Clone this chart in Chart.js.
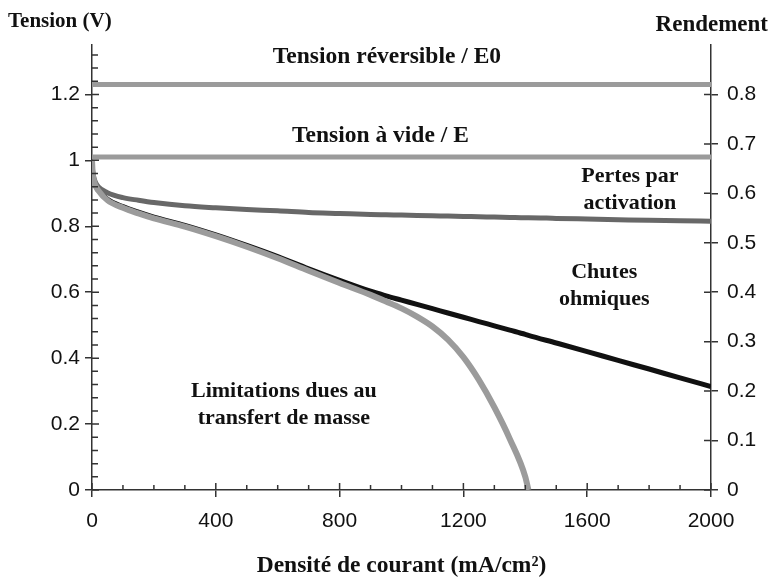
<!DOCTYPE html>
<html lang="fr">
<head>
<meta charset="utf-8">
<title>Courbe de polarisation</title>
<script src="https://cdn.jsdelivr.net/npm/chart.js@4.4.1/dist/chart.umd.min.js"></script>
<style>
  html, body { margin: 0; padding: 0; background: #fff; }
  #cadre { width: 772px; height: 580px; }
</style>
</head>
<body>
<div id="cadre"><canvas id="graphe" width="772" height="580"></canvas></div>
<script>
// densité de courant (mA/cm²)
const courant = [0, 2, 5, 10, 20, 50, 100, 150, 200, 300, 400, 500, 600, 700, 800, 900, 950, 1000,
  1050, 1100, 1150, 1200, 1250, 1300, 1350, 1400, 1410, 1500, 1600, 1700, 1800, 1900, 2000];

// tensions (V)
const pertesActivation = [1.0, 0.97, 0.952, 0.936, 0.92, 0.902, 0.887, 0.879, 0.872, 0.862, 0.856, 0.851,
  0.847, 0.842, 0.839, 0.836, 0.835, 0.834, 0.833, 0.832, 0.831, 0.83, 0.829, 0.828, 0.827, 0.826, 0.826,
  0.824, 0.822, 0.82, 0.818, 0.817, 0.815];
const chutesOhmiques = [1.0, 0.965, 0.945, 0.928, 0.912, 0.882, 0.86, 0.843, 0.828, 0.803, 0.774, 0.742,
  0.708, 0.671, 0.636, 0.603, 0.589, 0.576, 0.563, 0.55, 0.537, 0.524, 0.511, 0.498, 0.485, 0.472, 0.469,
  0.446, 0.42, 0.393, 0.367, 0.34, 0.314];
const transfertMasse = [1.0, 0.963, 0.943, 0.926, 0.909, 0.879, 0.856, 0.839, 0.824, 0.799, 0.77, 0.738,
  0.703, 0.665, 0.628, 0.592, 0.572, 0.551, 0.526, 0.496, 0.456, 0.403, 0.334, 0.251, 0.155, 0.04, 0,
  null, null, null, null, null, null];

const bornesCourant = [0, 2000];
const tensionReversible = [1.23, 1.23];
const tensionVide = [1.01, 1.01];

// graduations
const ticksCourant = [0, 400, 800, 1200, 1600, 2000];
const ticksTension = [0, 0.2, 0.4, 0.6, 0.8, 1, 1.2];
const ticksRendement = [0, 0.1, 0.2, 0.3, 0.4, 0.5, 0.6, 0.7, 0.8];

const points = (xs, ys) => xs.map((x, i) => ({ x: x, y: ys[i] }));

// textes posés sur le graphe (position en unités des axes)
const etiquettes = [
  { lignes: ['Tension réversible / E0'], x: 953, y: 1.313, taille: 23.5 },
  { lignes: ['Tension à vide / E'], x: 932, y: 1.075, taille: 23.5 },
  { lignes: ['Pertes par', 'activation'], x: 1738, y: 0.951, taille: 22 },
  { lignes: ['Chutes', 'ohmiques'], x: 1655, y: 0.66, taille: 22 },
  { lignes: ['Limitations dues au', 'transfert de masse'], x: 620, y: 0.298, taille: 22 }
];

const serif = '"Liberation Serif", "Times New Roman", serif';

const graduations = {
  id: 'graduations',
  afterDatasetsDraw(chart) {
    const ctx = chart.ctx;
    const sx = chart.scales.x, sy = chart.scales.y, sr = chart.scales.y2;
    ctx.save();
    ctx.strokeStyle = '#333';
    ctx.lineWidth = 1.5;
    ctx.beginPath();
    // axe gauche : petites graduations tous les 0.04 vers l'intérieur
    for (let i = 0; i <= 33; i++) {
      const py = sy.getPixelForValue(i * 0.04);
      const l = (i % 5 === 0) ? 7 : 6;
      ctx.moveTo(sy.right, py);
      ctx.lineTo(sy.right + l, py);
    }
    // axe droit
    ticksRendement.forEach(v => {
      const py = sr.getPixelForValue(v);
      ctx.moveTo(sr.left, py);
      ctx.lineTo(sr.left - 7, py);
    });
    // axe des x : tous les 100
    for (let j = 0; j <= 2000; j += 100) {
      const px = sx.getPixelForValue(j);
      const l = (j % 400 === 0) ? 7 : 5;
      ctx.moveTo(px, sx.top);
      ctx.lineTo(px, sx.top - l);
    }
    ctx.stroke();
    ctx.restore();
  }
};

const textes = {
  id: 'textes',
  afterDraw(chart) {
    const ctx = chart.ctx;
    const sx = chart.scales.x, sy = chart.scales.y;
    ctx.save();
    ctx.fillStyle = '#111';
    ctx.textAlign = 'center';
    ctx.textBaseline = 'middle';
    etiquettes.forEach(e => {
      ctx.font = 'bold ' + e.taille + 'px ' + serif;
      const px = sx.getPixelForValue(e.x);
      const py = sy.getPixelForValue(e.y);
      e.lignes.forEach((t, k) => ctx.fillText(t, px, py + k * 27));
    });
    ctx.font = 'bold 21px ' + serif;
    ctx.textAlign = 'left';
    ctx.fillText('Tension (V)', 8, 22);
    ctx.font = 'bold 23px ' + serif;
    ctx.textAlign = 'right';
    ctx.fillText('Rendement', 768, 25);
    ctx.restore();
  }
};

const fixeTicks = list => scale => { scale.ticks = list.map(v => ({ value: v })); };

new Chart(document.getElementById('graphe'), {
  type: 'line',
  data: {
    datasets: [
      {
        label: 'Limitations dues au transfert de masse',
        data: points(courant, transfertMasse),
        borderColor: '#9b9b9b', borderWidth: 6,
        cubicInterpolationMode: 'monotone'
      },
      {
        label: 'Pertes par activation',
        data: points(courant, pertesActivation),
        borderColor: '#686868', borderWidth: 5,
        cubicInterpolationMode: 'monotone'
      },
      {
        label: 'Chutes ohmiques',
        data: points(courant, chutesOhmiques),
        borderColor: '#111', borderWidth: 5,
        cubicInterpolationMode: 'monotone'
      },
      {
        label: 'Tension à vide / E',
        data: points(bornesCourant, tensionVide),
        borderColor: '#9b9b9b', borderWidth: 5
      },
      {
        label: 'Tension réversible / E0',
        data: points(bornesCourant, tensionReversible),
        borderColor: '#9b9b9b', borderWidth: 5
      }
    ]
  },
  options: {
    responsive: false,
    animation: false,
    layout: { padding: { top: 45, left: 0, right: 0, bottom: 0 } },
    elements: { point: { radius: 0 }, line: { borderCapStyle: 'butt' } },
    plugins: { legend: { display: false }, tooltip: { enabled: false } },
    scales: {
      x: {
        type: 'linear', min: 0, max: 2000,
        afterBuildTicks: fixeTicks(ticksCourant),
        afterFit: scale => { scale.height = 90; },
        border: { display: true, color: '#333', width: 1.5 },
        grid: { drawOnChartArea: false, drawTicks: true, tickLength: 7, color: '#333', lineWidth: 1.5 },
        ticks: {
          padding: 12, color: '#111', maxRotation: 0,
          font: { family: '"Liberation Sans", Arial, sans-serif', size: 21 },
          callback: v => String(v)
        },
        title: {
          display: true, text: 'Densité de courant (mA/cm²)', color: '#111',
          font: { family: serif, size: 23.5, weight: 'bold' },
          padding: { top: 4, bottom: 0 }
        }
      },
      y: {
        type: 'linear', position: 'left', min: 0, max: 1.35,
        afterBuildTicks: fixeTicks(ticksTension),
        afterFit: scale => { scale.width = 92; },
        border: { display: true, color: '#333', width: 1.5 },
        grid: { drawOnChartArea: false, drawTicks: true, tickLength: 7, color: '#333', lineWidth: 1.5 },
        ticks: {
          padding: 5, color: '#111',
          font: { family: '"Liberation Sans", Arial, sans-serif', size: 21 },
          callback: v => String(v)
        }
      },
      y2: {
        type: 'linear', position: 'right', min: 0, max: 0.9, display: true,
        afterBuildTicks: fixeTicks(ticksRendement),
        afterFit: scale => { scale.width = 61; },
        border: { display: true, color: '#333', width: 1.5 },
        grid: { drawOnChartArea: false, drawTicks: true, tickLength: 7, color: '#333', lineWidth: 1.5 },
        ticks: {
          padding: 9, color: '#111',
          font: { family: '"Liberation Sans", Arial, sans-serif', size: 21 },
          callback: v => String(v)
        }
      }
    }
  },
  plugins: [graduations, textes]
});
</script>
</body>
</html>
